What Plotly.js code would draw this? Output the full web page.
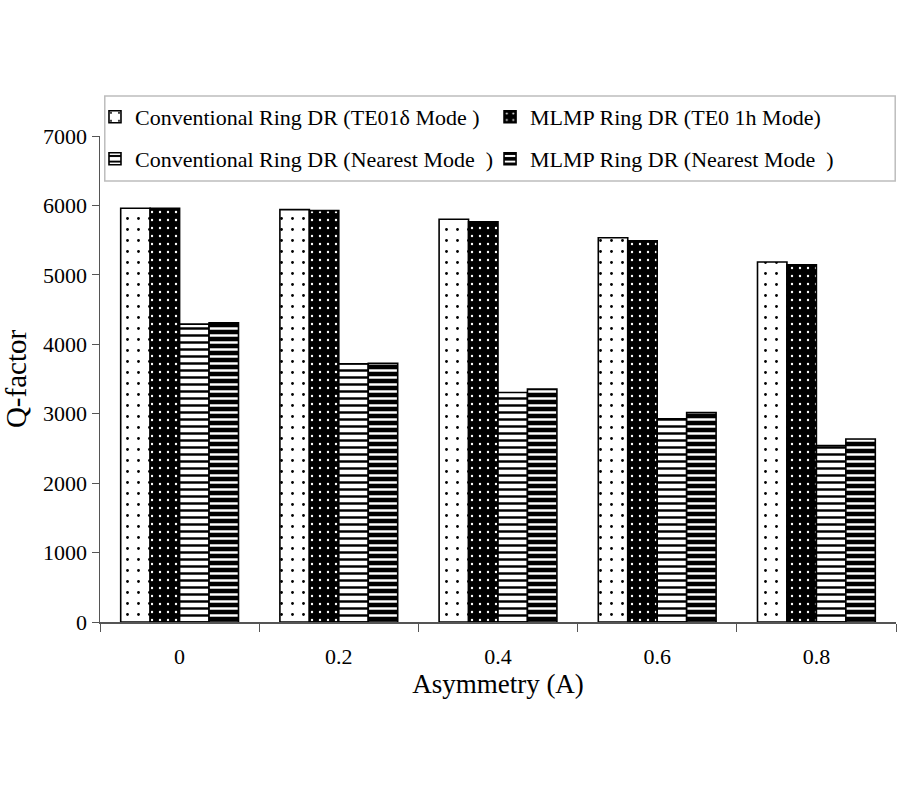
<!DOCTYPE html>
<html>
<head>
<meta charset="utf-8">
<script src="https://cdn.plot.ly/plotly-3.0.1.min.js"></script>
<style>html,body{margin:0;padding:0;background:#fff;}#chart{width:899px;height:800px;}</style>
</head>
<body>
<div id="chart"></div>
<script>
var categories = ["0", "0.2", "0.4", "0.6", "0.8"];
var convTE01 = [5960, 5940, 5800, 5535, 5185];
var mlmpTE01h = [5960, 5925, 5765, 5490, 5145];
var convNearest = [4290, 3720, 3305, 2925, 2540];
var mlmpNearest = [4310, 3725, 3355, 3015, 2635];
var seriesNames = [
  "Conventional Ring DR (TE01\u03b4 Mode )",
  "MLMP Ring DR (TE0 1h Mode)",
  "Conventional Ring DR (Nearest Mode  )",
  "MLMP Ring DR (Nearest Mode  )"
];

function bar(y, name, bg, fg, shape, size, solidity, legend) {
  return {
    type: "bar", x: categories, y: y, name: name, legend: legend,
    marker: {
      color: bg,
      line: {color: "#000", width: 1.6},
      pattern: {shape: shape, bgcolor: bg, fgcolor: fg, size: size, solidity: solidity, fillmode: "replace"}
    },
    hoverinfo: "x+y"
  };
}

var data = [
  bar(convTE01, seriesNames[0], "#ffffff", "#000000", ".", 11, 0.05, "legend"),
  bar(mlmpTE01h, seriesNames[1], "#000000", "#ffffff", ".", 8, 0.07, "legend2"),
  bar(convNearest, seriesNames[2], "#ffffff", "#000000", "-", 7, 0.35, "legend3"),
  bar(mlmpNearest, seriesNames[3], "#000000", "#ffffff", "-", 7, 0.35, "legend4")
];

var FAM = "Liberation Serif";
var font = {family: FAM, color: "#000"};

function leg(x, y) {
  return {
    orientation: "h", x: x, y: y, xanchor: "left", yanchor: "top",
    bgcolor: "rgba(0,0,0,0)", borderwidth: 0,
    font: {family: FAM, size: 22, color: "#000"},
    itemwidth: 30
  };
}

var layout = {
  width: 899, height: 800,
  margin: {l: 100, r: 3, t: 136, b: 178},
  paper_bgcolor: "#fff", plot_bgcolor: "#fff",
  font: font,
  barmode: "group",
  bargap: 0.26,
  bargroupgap: 0,
  showlegend: true,
  legend: leg(-0.0063, 1.0823),
  legend2: leg(0.49, 1.0823),
  legend3: leg(-0.0063, 0.9959),
  legend4: leg(0.49, 0.9959),
  shapes: [{
    type: "rect", xref: "paper", yref: "paper",
    x0: 0.006, x1: 0.999, y0: 0.9075, y1: 1.0823,
    line: {color: "#bdbdbd", width: 1.5}, fillcolor: "#ffffff", layer: "above"
  }],
  xaxis: {
    type: "category",
    tickson: "boundaries",
    ticks: "outside", ticklen: 8, tickcolor: "#555", tickwidth: 1,
    showline: true, linecolor: "#555", linewidth: 1.5,
    showgrid: false, zeroline: false,
    tickfont: {family: FAM, size: 22, color: "#000"},
    ticklabelstandoff: 14,
    title: {text: "Asymmetry (A)", font: {family: FAM, size: 27, color: "#000"}, standoff: 6}
  },
  yaxis: {
    range: [0, 7000],
    tickvals: [0, 1000, 2000, 3000, 4000, 5000, 6000, 7000],
    ticktext: ["0", "1000", "2000", "3000", "4000", "5000", "6000", "7000"],
    ticks: "outside", ticklen: 7, tickcolor: "#555", tickwidth: 1,
    showline: true, linecolor: "#555", linewidth: 1.5,
    showgrid: false, zeroline: false,
    tickfont: {family: FAM, size: 22, color: "#000"},
    title: {text: "Q-factor", font: {family: FAM, size: 29, color: "#000"}, standoff: 10}
  }
};

Plotly.newPlot("chart", data, layout, {displayModeBar: false, staticPlot: true});
</script>
</body>
</html>
